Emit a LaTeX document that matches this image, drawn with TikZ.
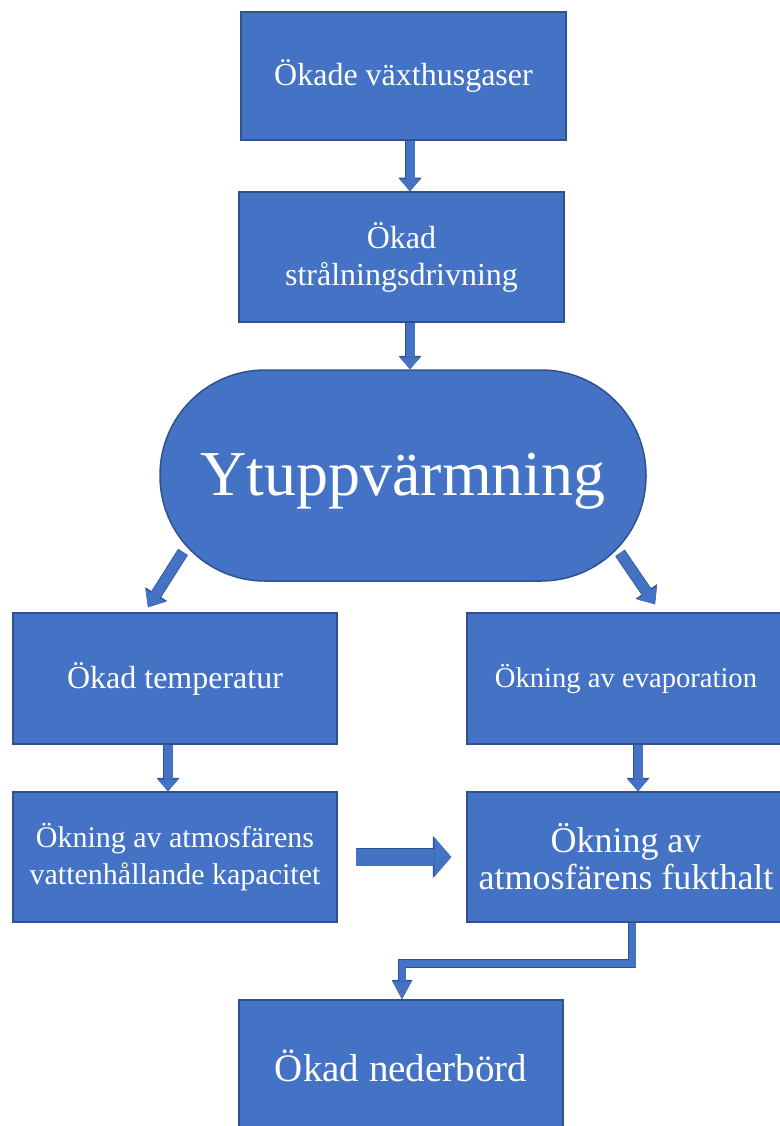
\documentclass[tikz,border=0pt]{standalone}
\usepackage{fontspec}
\setmainfont{Liberation Serif}
\usetikzlibrary{arrows.meta}
\definecolor{boxfill}{HTML}{4472C4}
\definecolor{boxline}{HTML}{2F528F}
\tikzset{
  box/.style={draw=boxline, line width=1.5pt, fill=boxfill, text=white, align=center, inner sep=0pt},
  fs32/.style={font=\fontsize{32}{37}\selectfont},
  fs30/.style={font=\fontsize{30}{37}\selectfont},
  fs29/.style={font=\fontsize{28.6}{34}\selectfont},
  fs36/.style={font=\fontsize{36}{37}\selectfont},
  fs39/.style={font=\fontsize{39}{45}\selectfont},
  fs64/.style={font=\fontsize{64}{70}\selectfont, text height=52pt, text depth=13pt},
  barrow/.style args={#1/#2/#3}{draw=boxfill, line width=#1pt,
    -{Triangle[width=#2pt,length=#3pt,line width=0pt]},
    preaction={draw=boxline, line width=#1pt+1.6pt, -{Triangle[width=#2pt+2pt,length=#3pt+1.5pt,line width=0pt]}}},
}
\begin{document}
\begin{tikzpicture}[x=1pt,y=-1pt]
\useasboundingbox (0,0) rectangle (779,1126);
\node[box, fs32, minimum width=325pt, minimum height=128pt] (b1) at (403.5,76) {Ökade växthusgaser};
\node[box, fs32, minimum width=325pt, minimum height=130pt] (b2) at (401.5,257) {Ökad\\strålningsdrivning};
\node[box, fs64, minimum width=486pt, minimum height=211pt, rounded corners=105pt] (yt) at (403,475.5) {Ytuppvärmning};
\node[box, fs32, minimum width=324pt, minimum height=131pt] (lt) at (175,678.5) {Ökad temperatur};
\node[box, fs29, minimum width=318pt, minimum height=131pt] (rt) at (626,678.5) {Ökning av evaporation};
\node[box, fs30, minimum width=324pt, minimum height=130pt] (lb) at (175,857) {Ökning av atmosfärens\\vattenhållande kapacitet};
\node[box, fs36, minimum width=318pt, minimum height=130pt] (rb) at (626,857) {Ökning av\\atmosfärens fukthalt};
\node[box, fs39, minimum width=324pt, minimum height=132pt] (nb) at (401,1066) {Ökad nederbörd};

\draw[barrow=9/21/12] ([shift={(6.5,0)}]b1.south) -- ([shift={(8.5,0)}]b2.north);
\draw[barrow=9/21/12] ([shift={(8.5,0)}]b2.south) -- ([shift={(7,0)}]yt.north);
\draw[barrow=10/24/14] ([shift={(-220,76.5)}]yt.center) -- ([shift={(-27,-5)}]lt.north);
\draw[barrow=10/24/14] ([shift={(217,77.5)}]yt.center) -- ([shift={(29,-8)}]rt.north);
\draw[barrow=9/21/12] ([shift={(-7,0)}]lt.south) -- ([shift={(-7,0)}]lb.north);
\draw[barrow=9/21/12] ([shift={(12,0)}]rt.south) -- ([shift={(12,0)}]rb.north);
\draw[barrow=17/40/17] ([shift={(18,0)}]lb.east) -- ([shift={(-15,0)}]rb.west);
\draw[barrow=7/19/18] ([shift={(6,0)}]rb.south) -- ++(0,40.5) -| ([shift={(1,0)}]nb.north);
\end{tikzpicture}
\end{document}
